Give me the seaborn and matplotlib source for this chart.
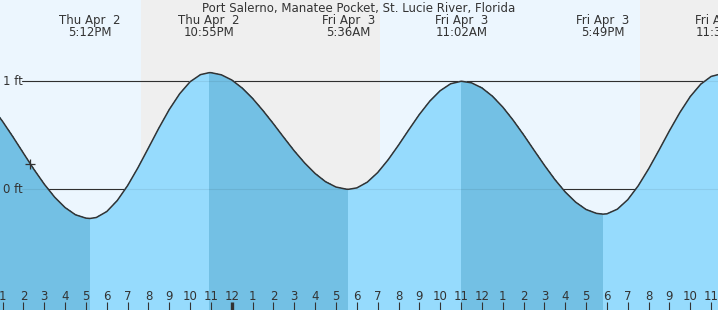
import matplotlib
matplotlib.use("Agg")
import matplotlib.pyplot as plt
import seaborn as sns
import numpy as np

# ---------------- data (hours since Thu Apr 2 00:00) ----------------
times = [12.5, 13.0, 13.5, 14.0, 14.5, 15.0, 15.5, 16.0, 16.5, 17.0,
         17.2,
         17.5, 18.0, 18.5, 19.0, 19.5, 20.0, 20.5, 21.0, 21.5, 22.0, 22.5,
         22.917,
         23.0, 23.5, 24.0, 24.5, 25.0, 25.5, 26.0, 26.5, 27.0, 27.5, 28.0, 28.5, 29.0, 29.5,
         29.6,
         30.0, 30.5, 31.0, 31.5, 32.0, 32.5, 33.0, 33.5, 34.0, 34.5, 35.0,
         35.033,
         35.5, 36.0, 36.5, 37.0, 37.5, 38.0, 38.5, 39.0, 39.5, 40.0, 40.5, 41.0, 41.5,
         41.817,
         42.0, 42.5, 43.0, 43.5, 44.0, 44.5, 45.0, 45.5, 46.0, 46.5, 47.0, 47.5]
heights = [0.757, 0.629, 0.485, 0.335, 0.186, 0.048, -0.073, -0.169, -0.236, -0.267,
           -0.270,
           -0.261, -0.206, -0.105, 0.034, 0.201, 0.383, 0.567, 0.739, 0.885, 0.996, 1.062,
           1.080,
           1.080, 1.060, 1.012, 0.937, 0.841, 0.728, 0.606, 0.479, 0.355, 0.243, 0.146, 0.070, 0.021, 0.001,
           0.000,
           0.013, 0.066, 0.155, 0.273, 0.409, 0.553, 0.693, 0.816, 0.913, 0.977, 1.000,
           1.000,
           0.986, 0.939, 0.863, 0.762, 0.640, 0.505, 0.363, 0.223, 0.091, -0.025, -0.119, -0.187, -0.223,
           -0.230,
           -0.227, -0.184, -0.096, 0.032, 0.189, 0.363, 0.542, 0.711, 0.859, 0.973, 1.045, 1.070]

extreme_times = [17.2, 22.917, 29.6, 35.033, 41.817, 47.5]
extreme_days = ["Thu Apr  2", "Thu Apr  2", "Fri Apr  3", "Fri Apr  3", "Fri Apr  3", "Fri Apr  3"]
extreme_clock = ["5:12PM", "10:55PM", "5:36AM", "11:02AM", "5:49PM", "11:30PM"]

sunset_thu, sunrise_fri, sunset_fri = 19.65, 31.12, 43.6
now_time, now_height = 14.33, 0.23
ref_levels = [1, 0]
ref_labels = ["1 ft", "0 ft"]
title = "Port Salerno, Manatee Pocket, St. Lucie River, Florida"
tick_hours = list(range(13, 48))
tick_labels = [str((h - 1) % 12 + 1) for h in tick_hours]

# ---------------- style ----------------
sns.set_style("white")
plt.rcParams["font.family"] = ["DejaVu Sans"]

DAY = "#ecf6fe"
NIGHT = "#efefef"
RISE = "#96dbfd"
FALL = "#73c0e4"
INK = "#333333"
FS = 8.5

W, H = 718, 310
fig = plt.figure(figsize=(W / 100, H / 100), dpi=100)
ax = fig.add_axes([0, 0, 1, 1])
ax.set_facecolor(DAY)
ax.set_axisbelow(False)

x_left, x_right = 12.8772, 47.330
y_bot, y_top = -1.1176, 1.7528
ax.set_xlim(x_left, x_right)
ax.set_ylim(y_bot, y_top)

# night bands
ax.axvspan(sunset_thu, sunrise_fri, color=NIGHT, lw=0, zorder=0)
ax.axvspan(sunset_fri, x_right + 5, color=NIGHT, lw=0, zorder=0)

# reference lines (dark, behind fill)
for lev in ref_levels:
    ax.axhline(lev, xmin=22 / W, color=INK, lw=0.8, zorder=1)

# fill segments between extremes
t = np.array(times)
h = np.array(heights)
bounds = [0] + [int(np.argmin(np.abs(t - e))) for e in extreme_times if e <= t[-1]] + [len(t) - 1]
bounds = sorted(set(bounds))
for a, b in zip(bounds[:-1], bounds[1:]):
    seg_t = t[a:b + 1]
    seg_h = h[a:b + 1]
    col = FALL if seg_h[-1] < seg_h[0] else RISE
    ax.fill_between(seg_t, seg_h, y_bot - 1, color=col, lw=0, zorder=2, antialiased=False)

# faint reference lines over fill
for lev in ref_levels:
    ax.axhline(lev, xmin=22 / W, color="black", alpha=0.07, lw=0.8, zorder=3)

# tide curve
sns.lineplot(x=times, y=heights, ax=ax, color=INK, lw=1.1, estimator=None, zorder=4)

# current time marker
ax.plot([now_time], [now_height], marker="+", ms=6.5, mew=0.9, color=INK, zorder=5)

# labels
for lev, lab in zip(ref_levels, ref_labels):
    ax.text(3 / W, lev, lab, transform=ax.get_yaxis_transform(), ha="left",
            va="center", fontsize=FS, color=INK, zorder=6)

xt = ax.get_xaxis_transform()
for et, d, c in zip(extreme_times, extreme_days, extreme_clock):
    ax.text(et, 1 - 24 / H, d, transform=xt, ha="center", va="baseline",
            fontsize=FS, color=INK, clip_on=False)
    ax.text(et, 1 - 36.5 / H, c, transform=xt, ha="center", va="baseline",
            fontsize=FS, color=INK, clip_on=False)

fig.text(0.5, 1 - 12.3 / H, title, ha="center", va="baseline", fontsize=FS, color=INK)

# axis ticks
ax.set_xticks(tick_hours)
ax.set_xticklabels(tick_labels)
ax.set_yticks([])
ax.tick_params(axis="x", direction="in", length=5.8, width=0.8, color=INK,
               pad=-14.6, labelsize=FS, labelcolor=INK, bottom=True)
for tk, hr in zip(ax.xaxis.get_major_ticks(), tick_hours):
    if hr % 24 == 0:
        tk.tick1line.set_markeredgewidth(2.4)
for s in ax.spines.values():
    s.set_visible(False)
ax.set_xlabel("")
ax.set_ylabel("")
ax.grid(False)

fig.savefig("out.png", dpi=100)
